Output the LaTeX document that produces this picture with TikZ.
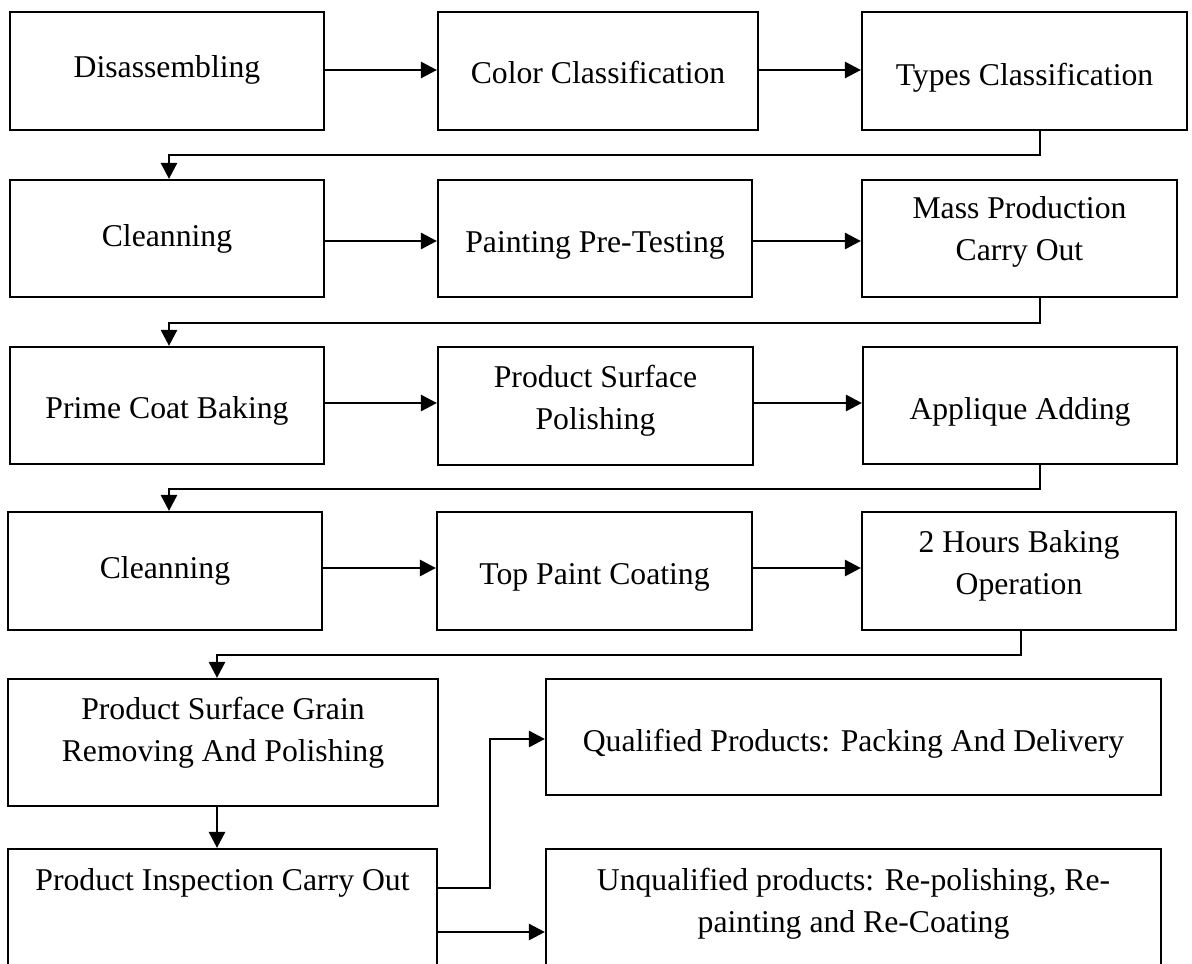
\documentclass[tikz,border=0pt]{standalone}
\usepackage{fontspec}
\setmainfont{Liberation Serif}
\usetikzlibrary{arrows.meta}

% two centred lines whose baseline is the first line's baseline
\newcommand\twolines[2]{\vtop{\baselineskip=42pt\halign{\hfil##\hfil\cr#1\cr#2\cr}}}

\begin{document}
\begin{tikzpicture}[x=1pt,y=-1pt,
  stepbox/.style={draw=black,line width=2.2pt,inner sep=0pt,fill=none},
  lbl/.style={inner sep=0pt,anchor=base,font=\fontsize{31.7}{42}\selectfont},
  arr/.style={draw=black,line width=2.8pt,-{Triangle[length=16pt,width=16pt]}}]
\useasboundingbox (0,0) rectangle (1192,964);
\clip (0,0) rectangle (1192,964);

% boxes: name, centre x, centre y, width, height
\newcommand\stepat[6]{\node[stepbox,minimum width=#4pt,minimum height=#5pt] (#1) at (#2,#3) {#6};}
\stepat{b1}{167}{71}{314}{118}{}
\stepat{b2}{598}{71}{320}{118}{}
\stepat{b3}{1024.5}{71}{325}{118}{}
\stepat{b4}{167}{238.5}{314}{117}{}
\stepat{b5}{595}{238.5}{314}{117}{}
\stepat{b6}{1019.5}{238.5}{315}{117}{}
\stepat{b7}{167}{405.5}{314}{117}{}
\stepat{b8}{595.5}{406}{315}{118}{}
\stepat{b9}{1020}{405.5}{314}{117}{}
\stepat{b10}{165}{571}{314}{118}{}
\stepat{b11}{594.5}{571}{315}{118}{}
\stepat{b12}{1019}{571}{314}{118}{}
\stepat{b13}{223}{742.5}{430}{127}{}
\stepat{b14}{853.5}{737}{615}{116}{}
\stepat{b15}{222.5}{924.5}{429}{151}{}
\stepat{b16}{853.5}{924.5}{615}{151}{}

% texts
\node[lbl] (t1) at (167,77) {Disassembling};
\node[lbl] (t2) at (598,83) {Color Classification};
\node[lbl] (t3) at (1024.5,85) {Types Classification};
\node[lbl] (t4) at (167,246) {Cleanning};
\node[lbl] (t5) at (595,252) {Painting Pre-Testing};
\node[lbl] (t6) at (1019.5,218) {\twolines{Mass Production}{Carry Out}};
\node[lbl] (t7) at (167,418) {Prime Coat Baking};
\node[lbl] (t8) at (595.5,387) {\twolines{Product Surface}{Polishing}};
\node[lbl] (t9) at (1020,419) {Applique Adding};
\node[lbl] (t10) at (165,578) {Cleanning};
\node[lbl] (t11) at (594.5,584) {Top Paint Coating};
\node[lbl] (t12) at (1019,552) {\twolines{2 Hours Baking}{Operation}};
\node[lbl] (t13) at (223,719) {\twolines{Product Surface Grain}{Removing And Polishing}};
\node[lbl] (t14) at (853.5,751) {Qualified Products: Packing And Delivery};
\node[lbl] (t15) at (222.5,890) {Product Inspection Carry Out};
\node[lbl] (t16) at (853.5,890) {\twolines{Unqualified products: Re-polishing, Re-}{painting and Re-Coating}};

% bends of the return connectors and row heights of the arrows
\coordinate (k1r) at (1040,155);  \coordinate (k1l) at (169,155);
\coordinate (k2r) at (1040,323);  \coordinate (k2l) at (169,323);
\coordinate (k3r) at (1040,489);  \coordinate (k3l) at (169,489);
\coordinate (k4r) at (1021,655);  \coordinate (k4l) at (217,655);
\coordinate (q1) at (490,888);    \coordinate (q2) at (490,739);
\coordinate (r1) at (0,70);  \coordinate (r2) at (0,241);
\coordinate (r3) at (0,403); \coordinate (r4) at (0,568);
\coordinate (r6) at (0,932);

% row connectors
\draw[arr] (b1.east |- r1) -- (b2.west |- r1);
\draw[arr] (b2.east |- r1) -- (b3.west |- r1);
\draw[arr] (b4.east |- r2) -- (b5.west |- r2);
\draw[arr] (b5.east |- r2) -- (b6.west |- r2);
\draw[arr] (b7.east |- r3) -- (b8.west |- r3);
\draw[arr] (b8.east |- r3) -- (b9.west |- r3);
\draw[arr] (b10.east |- r4) -- (b11.west |- r4);
\draw[arr] (b11.east |- r4) -- (b12.west |- r4);

% return connectors to the next row
\draw[arr] (b3.south -| k1r) -- (k1r) -- (k1l) -- (b4.north -| k1l);
\draw[arr] (b6.south -| k2r) -- (k2r) -- (k2l) -- (b7.north -| k2l);
\draw[arr] (b9.south -| k3r) -- (k3r) -- (k3l) -- (b10.north -| k3l);
\draw[arr] (b12.south -| k4r) -- (k4r) -- (k4l) -- (b13.north -| k4l);

% inspection and its two outcomes
\draw[arr] (b13.south -| k4l) -- (b15.north -| k4l);
\draw[arr] (b15.east |- q1) -- (q1) -- (q2) -- (b14.west |- q2);
\draw[arr] (b15.east |- r6) -- (b16.west |- r6);
\end{tikzpicture}
\end{document}
